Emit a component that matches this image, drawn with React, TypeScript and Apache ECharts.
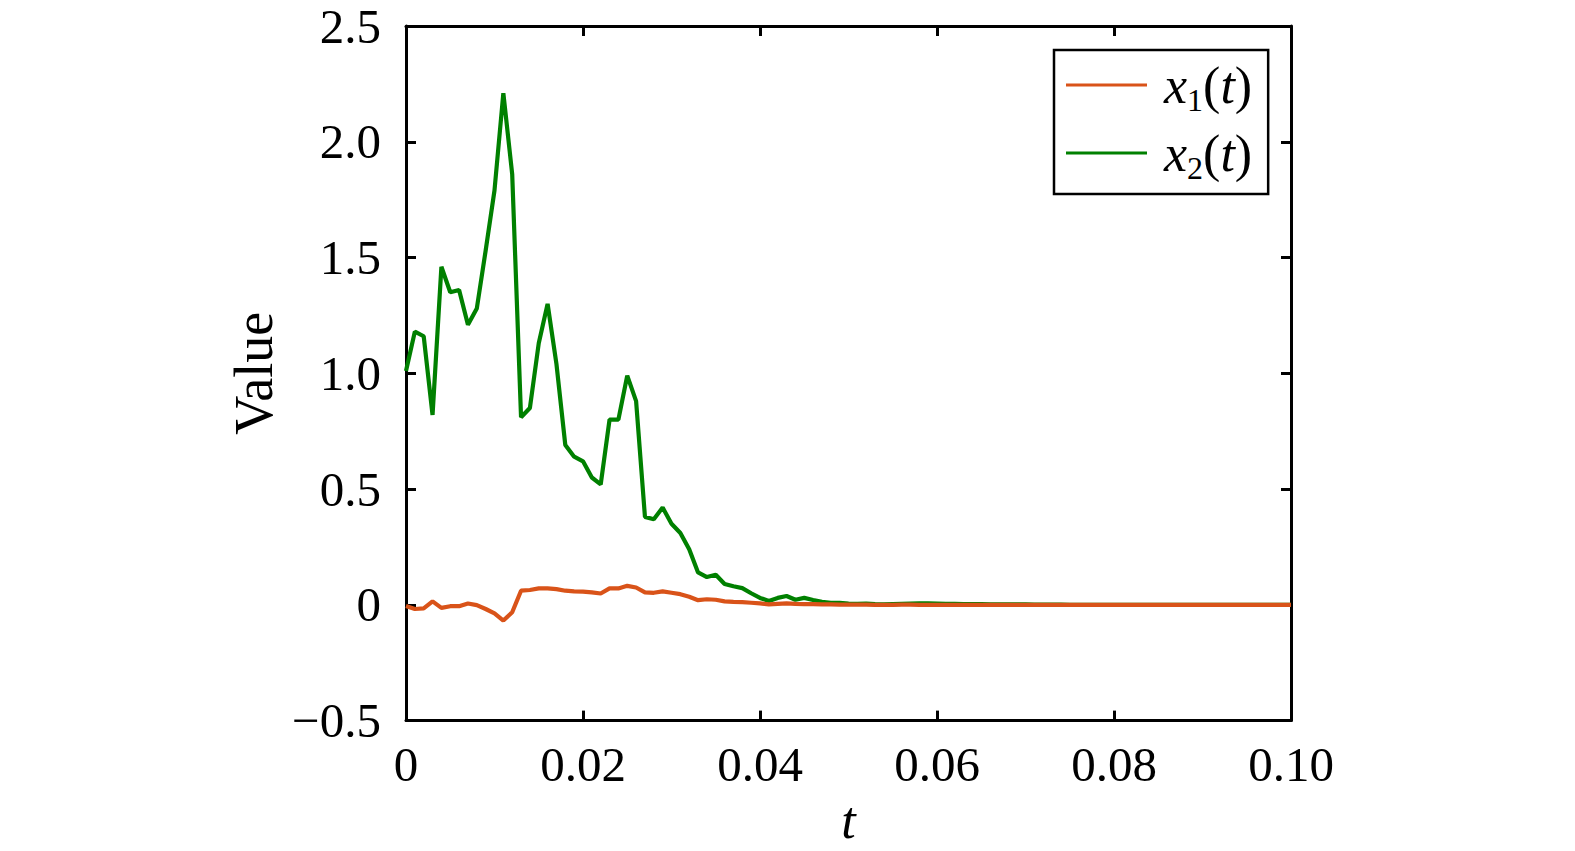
import React, { useEffect, useRef } from "react";
import * as echarts from "echarts";

const T_STEP_LABELS = ["0", "0.02", "0.04", "0.06", "0.08", "0.10"];

// t = 0, 0.001, ..., 0.100
const tValues: number[] = [
  0, 0.001, 0.002, 0.003, 0.004, 0.005, 0.006, 0.007, 0.008, 0.009,
  0.01, 0.011, 0.012, 0.013, 0.014, 0.015, 0.016, 0.017, 0.018, 0.019,
  0.02, 0.021, 0.022, 0.023, 0.024, 0.025, 0.026, 0.027, 0.028, 0.029,
  0.03, 0.031, 0.032, 0.033, 0.034, 0.035, 0.036, 0.037, 0.038, 0.039,
  0.04, 0.041, 0.042, 0.043, 0.044, 0.045, 0.046, 0.047, 0.048, 0.049,
  0.05, 0.051, 0.052, 0.053, 0.054, 0.055, 0.056, 0.057, 0.058, 0.059,
  0.06, 0.061, 0.062, 0.063, 0.064, 0.065, 0.066, 0.067, 0.068, 0.069,
  0.07, 0.071, 0.072, 0.073, 0.074, 0.075, 0.076, 0.077, 0.078, 0.079,
  0.08, 0.081, 0.082, 0.083, 0.084, 0.085, 0.086, 0.087, 0.088, 0.089,
  0.09, 0.091, 0.092, 0.093, 0.094, 0.095, 0.096, 0.097, 0.098, 0.099,
  0.1,
];

const x1Values: number[] = [
  -0.005, -0.018, -0.015, 0.015, -0.013, -0.006, -0.006, 0.006, -0.001, -0.018,
  -0.037, -0.068, -0.032, 0.061, 0.064, 0.071, 0.071, 0.068, 0.061, 0.058,
  0.057, 0.054, 0.049, 0.071, 0.071, 0.082, 0.075, 0.054, 0.052, 0.058,
  0.052, 0.046, 0.035, 0.02, 0.024, 0.022, 0.015, 0.013, 0.012, 0.009,
  0.006, 0.002, 0.004, 0.006, 0.004, 0.003, 0.003, 0.002, 0.002, 0.001,
  0.001, 0.001, 0.001, 0, 0, 0, 0.001, 0.001, 0, 0,
  0, 0, 0, 0, 0, 0, 0, 0, 0, 0,
  0, 0, 0, 0, 0, 0, 0, 0, 0, 0,
  0, 0, 0, 0, 0, 0, 0, 0, 0, 0,
  0, 0, 0, 0, 0, 0, 0, 0, 0, 0,
  0,
];

const x2Values: number[] = [
  1.01, 1.18, 1.16, 0.82, 1.46, 1.35, 1.36, 1.21, 1.28, 1.53,
  1.79, 2.21, 1.86, 0.81, 0.85, 1.13, 1.3, 1.04, 0.69, 0.64,
  0.62, 0.55, 0.52, 0.8, 0.8, 0.99, 0.88, 0.38, 0.37, 0.42,
  0.35, 0.31, 0.24, 0.14, 0.12, 0.13, 0.09, 0.08, 0.072, 0.05,
  0.03, 0.017, 0.03, 0.038, 0.022, 0.03, 0.021, 0.013, 0.009, 0.009,
  0.005, 0.004, 0.005, 0.003, 0.002, 0.003, 0.004, 0.005, 0.006, 0.006,
  0.005, 0.004, 0.004, 0.003, 0.003, 0.003, 0.002, 0.002, 0.002, 0.002,
  0.002, 0.001, 0.001, 0.001, 0.001, 0, 0, 0, 0, 0,
  0, 0, 0, 0, 0, 0, 0, 0, 0, 0,
  0, 0, 0, 0, 0, 0, 0, 0, 0, 0,
  0,
];

const seriesNames = ["x1(t)", "x2(t)"];
const seriesColors = ["#D95319", "#008000"];

const FONT = "Liberation Serif";

export default function App() {
  const ref = useRef<HTMLDivElement>(null);

  useEffect(() => {
    if (!ref.current) return;
    const chart = echarts.init(ref.current, undefined, { renderer: "svg" });
    const d1 = tValues.map((t, i) => [t, x1Values[i]]);
    const d2 = tValues.map((t, i) => [t, x2Values[i]]);
    const axisLine = { show: true, onZero: false, lineStyle: { color: "#000", width: 3 } };
    const axisTick = { show: true, inside: true, length: 10, lineStyle: { color: "#000", width: 3 } };
    const xFmt = (v: number) => {
      const idx = Math.round(v / 0.02);
      return T_STEP_LABELS[idx] ?? String(v);
    };
    const yFmt = (v: number) => {
      if (Math.abs(v) < 1e-9) return "0";
      return (v < 0 ? "\u2212" : "") + Math.abs(v).toFixed(1);
    };
    chart.setOption({
      animation: false,
      backgroundColor: "#fff",
      grid: { left: 406, right: 284, top: 26, bottom: 127, containLabel: false },
      legend: {
        orient: "vertical",
        left: 1054,
        top: 50,
        padding: [4, 16, 10, 12],
        itemGap: 6,
        itemWidth: 81,
        itemHeight: 3,
        icon: "rect",
        borderColor: "#000",
        borderWidth: 2.5,
        borderRadius: 0,
        backgroundColor: "#fff",
        data: seriesNames,
        formatter: (name: string) => {
          const sub = name.charAt(1);
          return `{x|x}{s|${sub}}{n|(}{i|t}{n|)}`;
        },
        textStyle: {
          fontFamily: FONT,
          fontSize: 52,
          color: "#000",
          rich: {
            x: { fontFamily: FONT, fontSize: 52, fontStyle: "italic", lineHeight: 56, padding: [0, 0, 0, 12], color: "#000" },
            i: { fontFamily: FONT, fontSize: 52, fontStyle: "italic", lineHeight: 56, color: "#000" },
            n: { fontFamily: FONT, fontSize: 52, lineHeight: 56, color: "#000" },
            s: { fontFamily: FONT, fontSize: 32, lineHeight: 22, padding: [30, 0, 0, 0], color: "#000" },
          },
        },
      },
      xAxis: [
        {
          type: "value",
          position: "bottom",
          min: 0,
          max: 0.1,
          interval: 0.02,
          name: "t",
          nameLocation: "middle",
          nameGap: 70,
          nameTextStyle: { fontFamily: FONT, fontSize: 52, fontStyle: "italic", color: "#000" },
          axisLine,
          axisTick,
          splitLine: { show: false },
          axisLabel: { formatter: xFmt, fontFamily: FONT, fontSize: 49, lineHeight: 38, color: "#000", margin: 25 },
        },
        {
          type: "value",
          position: "top",
          min: 0,
          max: 0.1,
          interval: 0.02,
          axisLine,
          axisTick,
          splitLine: { show: false },
          axisLabel: { show: false },
        },
      ],
      yAxis: [
        {
          type: "value",
          position: "left",
          min: -0.5,
          max: 2.5,
          interval: 0.5,
          name: "Value",
          nameLocation: "middle",
          nameGap: 108,
          nameTextStyle: { fontFamily: FONT, fontSize: 54, color: "#000" },
          axisLine,
          axisTick,
          splitLine: { show: false },
          axisLabel: { formatter: yFmt, fontFamily: FONT, fontSize: 49, lineHeight: 38, color: "#000", margin: 25 },
        },
        {
          type: "value",
          position: "right",
          min: -0.5,
          max: 2.5,
          interval: 0.5,
          axisLine,
          axisTick,
          splitLine: { show: false },
          axisLabel: { show: false },
        },
      ],
      series: [
        {
          name: seriesNames[0],
          type: "line",
          data: d1,
          showSymbol: false,
          symbol: "none",
          color: seriesColors[0],
          lineStyle: { width: 4.2, color: seriesColors[0] },
          z: 3,
        },
        {
          name: seriesNames[1],
          type: "line",
          data: d2,
          showSymbol: false,
          symbol: "none",
          color: seriesColors[1],
          lineStyle: { width: 4.2, color: seriesColors[1] },
          z: 2,
        },
      ],
    });
    return () => chart.dispose();
  }, []);

  return (
    <div
      ref={ref}
      style={{ position: "fixed", left: 0, top: 0, width: 1575, height: 851, background: "#fff" }}
    />
  );
}
